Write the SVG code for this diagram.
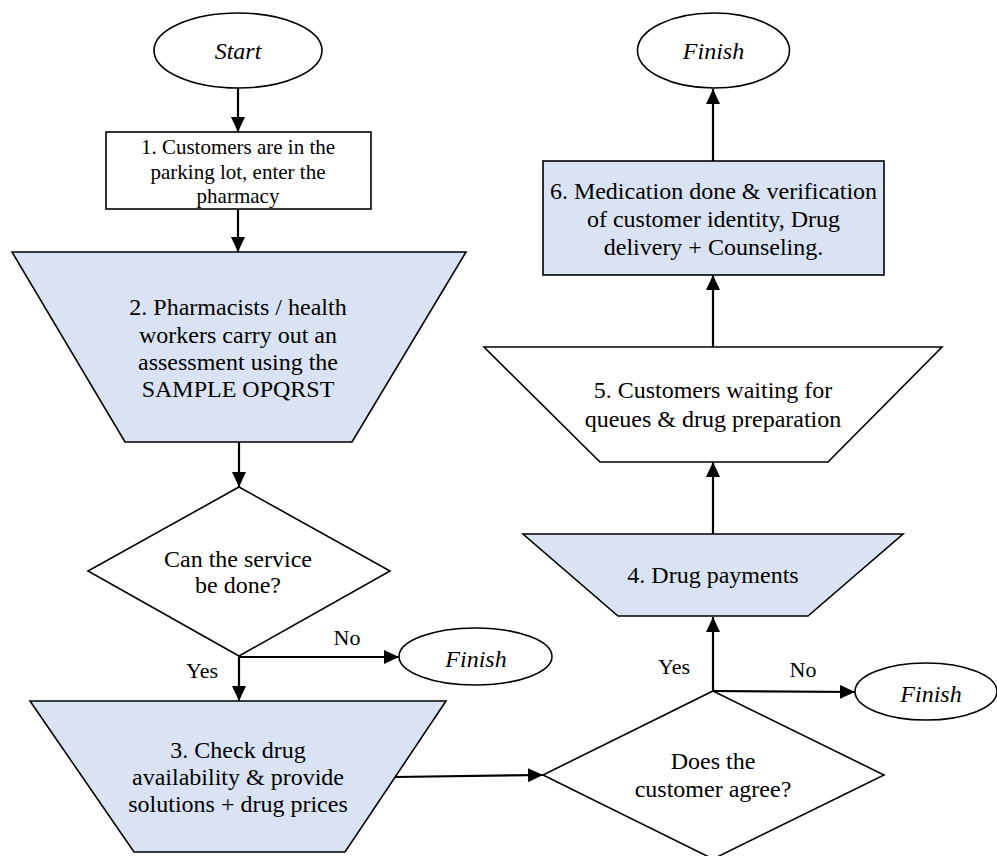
<svg xmlns="http://www.w3.org/2000/svg" width="997" height="856" viewBox="0 0 997 856">
<style>
  .shape { stroke: #000; stroke-width: 1.6; }
  .blue { fill: #dae3f3; }
  .white { fill: #fff; }
  .conn { stroke: #000; stroke-width: 2.2; fill: none; marker-end: url(#arrow); }
  text { font-family: "Liberation Serif", "Times New Roman", serif; fill: #000; text-anchor: middle; }
  .t24 { font-size: 24px; }
  .t21 { font-size: 21px; }
  .lbl { font-size: 22px; }
  .it { font-style: italic; font-size: 24px; }
</style>
<defs>
  <marker id="arrow" markerUnits="userSpaceOnUse" viewBox="0 0 15 14" refX="15" refY="7" markerWidth="15" markerHeight="14" orient="auto">
    <path d="M0,0 L15,7 L0,14 z" fill="#000"/>
  </marker>
</defs>
<rect width="997" height="856" fill="#fff"/>

<g id="connectors">
  <path class="conn" d="M238,88 L238,132"/>
  <path class="conn" d="M238,209 L238,252"/>
  <path class="conn" d="M239,442 L239,487"/>
  <path class="conn" d="M239,657 L399,657"/>
  <path class="conn" d="M239,657 L239,701"/>
  <path class="conn" d="M395,777 L543,775"/>
  <path class="conn" d="M713,691 L713,617"/>
  <path class="conn" d="M713,691 L855,692"/>
  <path class="conn" d="M713,534 L713,462"/>
  <path class="conn" d="M713,347 L713,275"/>
  <path class="conn" d="M713,161 L713,89"/>
  <text class="lbl" x="347" y="645">No</text>
  <text class="lbl" x="202" y="678">Yes</text>
  <text class="lbl" x="674" y="674">Yes</text>
  <text class="lbl" x="803" y="677">No</text>
</g>

<g id="start">
  <ellipse class="shape white" cx="238" cy="50.5" rx="84" ry="37.5"/>
  <text class="it" x="238" y="59">Start</text>
</g>

<g id="step1">
  <rect class="shape white" x="106" y="132" width="265" height="77"/>
  <text class="t21" x="238" y="154">1. Customers are in the</text>
  <text class="t21" x="238" y="179">parking lot, enter the</text>
  <text class="t21" x="238" y="203">pharmacy</text>
</g>

<g id="step2">
  <polygon class="shape blue" points="12,252 466,252 352,442 125,442"/>
  <text class="t24" x="238" y="315">2. Pharmacists / health</text>
  <text class="t24" x="238" y="343">workers carry out an</text>
  <text class="t24" x="238" y="370">assessment using the</text>
  <text class="t24" x="238" y="397">SAMPLE OPQRST</text>
</g>

<g id="decision1">
  <polygon class="shape white" points="239,487 390,571 239,656 88,571"/>
  <text class="t24" x="238" y="567">Can the service</text>
  <text class="t24" x="238" y="593">be done?</text>
</g>

<g id="finish-left">
  <ellipse class="shape white" cx="475.5" cy="656.5" rx="76.5" ry="28.5"/>
  <text class="it" x="476" y="667">Finish</text>
</g>

<g id="step3">
  <polygon class="shape blue" points="30,701 446,701 345,852 134,852"/>
  <text class="t24" x="238" y="758">3. Check drug</text>
  <text class="t24" x="238" y="785">availability &amp; provide</text>
  <text class="t24" x="238" y="812">solutions + drug prices</text>
</g>

<g id="decision2">
  <polygon class="shape white" points="713,691 884,775 713,859 543,775"/>
  <text class="t24" x="713" y="769">Does the</text>
  <text class="t24" x="713" y="797">customer agree?</text>
</g>

<g id="finish-right">
  <ellipse class="shape white" cx="926" cy="691.5" rx="71" ry="28.5"/>
  <text class="it" x="931" y="702">Finish</text>
</g>

<g id="step4">
  <polygon class="shape blue" points="523,534 903,534 808,616 618,616"/>
  <text class="t24" x="713" y="583">4. Drug payments</text>
</g>

<g id="step5">
  <polygon class="shape white" points="484,347 942,347 828,462 600,462"/>
  <text class="t24" x="713" y="398">5. Customers waiting for</text>
  <text class="t24" x="713" y="427">queues &amp; drug preparation</text>
</g>

<g id="step6">
  <rect class="shape blue" x="543" y="161" width="341" height="114"/>
  <text class="t24" x="713.5" y="199">6. Medication done &amp; verification</text>
  <text class="t24" x="713.5" y="227">of customer identity, Drug</text>
  <text class="t24" x="713.5" y="255">delivery + Counseling.</text>
</g>

<g id="finish-top">
  <ellipse class="shape white" cx="713.5" cy="50.5" rx="76" ry="37.5"/>
  <text class="it" x="713.5" y="59">Finish</text>
</g>
</svg>
